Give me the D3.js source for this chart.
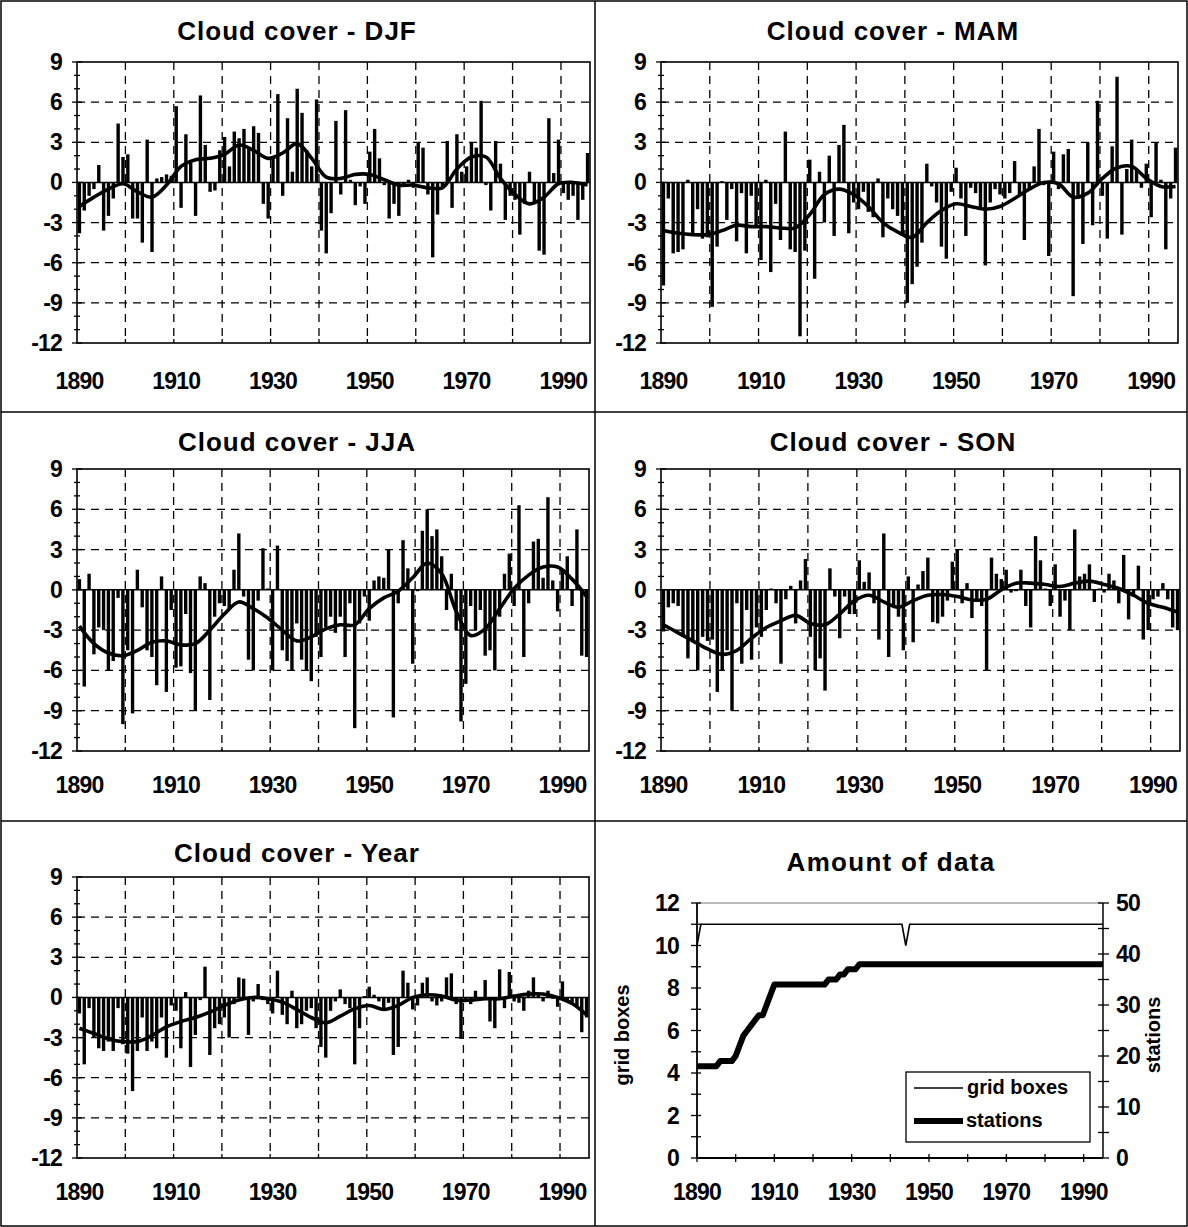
<!DOCTYPE html>
<html><head><meta charset="utf-8">
<script src="https://cdn.jsdelivr.net/npm/d3@7"></script>
<style>
body{margin:0;background:#fff}
svg{display:block}
text{font-family:"Liberation Sans",Arial,sans-serif;font-weight:bold;fill:#000}
</style>
</head><body>
<svg id="c" width="1188" height="1227"></svg>
<script>
// ---------------- DATA ----------------
const years = d3.range(1890, 1996);             // categories 1890..1995
const xTickLabels = [1890, 1910, 1930, 1950, 1970, 1990];
const yTickLabels = [9, 6, 3, 0, -3, -6, -9, -12];
const smoothYears = d3.range(1890, 1996, 3);     // points read for smoothed curves

const djf = [
 -3.8,-2.1,-1.0,-0.5, 1.3,-3.6,-2.5,-1.2, 4.4, 1.9,
  2.1,-2.7,-2.7,-4.5, 3.2,-5.2, 0.3, 0.4, 0.6, 0.5,
  5.7,-1.9, 3.6, 1.5,-2.5, 6.5, 2.8,-0.7,-0.6, 2.4,
  3.4, 1.2, 3.8, 3.3, 4.0, 2.5, 4.2, 3.7,-1.6,-2.7,
  1.9, 6.6,-1.0, 4.8, 0.8, 7.0, 5.2, 2.4, 1.2, 6.2,
 -3.6,-5.3,-2.3, 4.6,-0.9, 5.4, 0.2,-1.7,-0.3,-1.6,
  2.3, 4.0, 1.8,-0.2,-2.7,-1.6,-2.5,-0.3, 0.2,-0.4,
  3.0, 2.6,-0.9,-5.6,-2.4,-0.3, 3.1,-1.9, 3.6, 0.8,
  1.2, 3.0, 2.6, 6.1,-0.2,-2.1, 3.1, 1.4,-2.8,-1.0,
 -1.3,-3.9,-1.6, 0.8,-1.5,-5.1,-5.4, 4.8, 0.7, 3.2,
 -0.8,-1.3,-1.0,-2.8,-1.3, 2.2];
const djfSmooth = [-1.8,-1.1,-0.5,-0.1,-0.7,-1.1,-0.2,1.2,1.7,1.8,2.1,2.8,2.4,1.8,2.2,2.9,1.8,0.4,
  0.3,0.6,0.6,0.2,-0.2,-0.2,-0.4,-0.4,1.0,1.9,1.9,0.3,-0.9,-1.6,-1.1,-0.1,0.0,-0.2];

const mam = [
 -7.7,-1.2,-5.3,-5.2,-5.0, 0.2,-4.0,-2.0,-4.2,-4.1,
 -9.3,-4.8, 0.1,-2.8,-0.5,-4.4,-0.8,-5.3,-1.0,-3.4,
 -5.8, 0.2,-6.7,-1.6,-4.3, 3.8,-5.0,-5.2,-11.5,-5.1,
  1.7,-7.2, 0.8,-3.0, 2.0,-4.0, 2.8, 4.3,-3.8,-1.5,
 -2.0,-0.7,-2.2,-2.6, 0.3,-4.1,-1.2,-2.0,-2.5,-4.0,
 -9.0,-7.6,-6.3,-4.5, 1.4,-0.3,-1.5,-4.8,-5.7,-0.7,
  1.1,-1.2,-4.0,-0.4,-0.8,-1.9,-6.2,-1.5,-0.5,-0.9,
 -1.2,-0.8, 1.6,-0.9,-4.3,-0.5, 1.2, 4.0,-0.2,-5.5,
  2.3,-0.5, 2.1, 2.5,-8.5,-1.0,-4.6, 3.0,-3.2, 6.1,
 -1.0,-4.2, 2.7, 7.9,-3.9, 1.0, 3.2, 1.0,-0.4, 1.4,
 -2.6, 3.0, 0.2,-5.0,-1.2, 2.6];
const mamSmooth = [-3.6,-3.8,-3.9,-3.9,-3.6,-3.2,-3.3,-3.3,-3.4,-3.4,-2.4,-0.9,-0.5,-0.9,-1.8,-3.0,-3.7,-4.1,
  -3.0,-2.1,-1.6,-1.8,-2.0,-1.8,-1.2,-0.5,0.0,-0.1,-1.1,-0.8,0.3,1.1,1.2,0.3,-0.3,-0.3];

const jja = [
  0.8,-7.2, 1.2,-4.8,-2.8,-3.0,-6.0,-5.3,-0.6,-10.0,
 -4.5,-9.2, 1.5,-1.3,-4.5,-5.0,-7.1, 1.0,-7.6,-1.5,
 -5.8,-5.7,-1.8,-6.2,-9.0, 1.0, 0.5,-8.2,-2.0,-1.0,
 -1.2,-1.5, 1.5, 4.2,-0.5,-5.2,-6.0,-0.8, 3.1, 0.1,
 -6.0, 3.3,-4.5,-5.3,-6.0,-2.5,-5.2,-6.0,-6.8,-3.5,
 -5.0,-2.8,-2.0,-3.2,-2.0,-5.0,-1.0,-10.3,-2.5,-0.5,
 -2.3, 0.7, 1.0, 0.9, 3.0,-9.5,-1.0, 3.7, 1.6,-5.5,
 -0.1, 4.4, 6.0, 4.0, 4.5, 2.5,-1.5, 1.2,-3.0,-9.8,
 -7.0,-1.2,-3.0,-1.5,-4.9,-4.5,-6.0,-2.0, 1.2, 2.7,
 -1.2, 6.3,-5.0,-1.0, 3.6, 3.8, 0.9, 6.9, 0.7,-1.6,
  1.5, 2.5,-1.2, 4.5,-4.9,-5.0];
const jjaSmooth = [-2.7,-4.0,-4.7,-4.9,-4.5,-3.9,-3.8,-4.1,-4.0,-3.0,-1.8,-0.9,-1.4,-2.1,-3.0,-3.8,-3.5,-2.9,
  -2.6,-2.6,-1.4,-0.6,-0.1,0.9,2.0,1.2,-1.6,-3.4,-2.9,-1.4,0.1,1.1,1.7,1.7,0.8,-0.5];

const son = [
 -3.1,-1.3,-1.0,-1.2,-3.5,-5.1,-3.9,-6.0,-3.5,-3.8,
 -3.7,-7.6,-6.0,-4.5,-9.0,-1.0,-5.5,-1.5,-5.2,-2.8,
 -3.5,-1.5, 0.1,-1.0,-5.5,-0.7, 0.3,-2.5, 0.7, 2.3,
 -3.5,-6.0,-5.1,-7.5, 1.6,-0.5,-3.6,-0.5,-1.8,-1.8,
  2.2, 0.6, 1.3,-1.0,-3.7, 4.2,-5.0,-1.2,-2.0,-4.5,
  1.0,-3.9, 0.4, 1.4, 2.4,-2.4,-2.5,-2.0,-0.8, 2.1,
  3.0,-1.0, 0.5,-2.1,-0.8,-1.2,-6.0, 2.4, 1.2, 0.8,
  1.5,-0.2,-0.1, 1.5,-1.2,-2.8, 4.0, 2.2, 0.1,-1.2,
  1.9,-2.0,-0.8,-3.0, 4.5, 1.0, 1.2, 1.9,-0.9, 0.1,
 -0.2, 1.2, 0.7,-1.0, 2.6,-2.2,-0.5, 1.8,-3.7,-3.0,
 -0.7,-0.5, 0.5,-0.7,-2.8,-3.0];
const sonSmooth = [-2.6,-3.2,-3.8,-4.4,-4.8,-4.5,-3.6,-2.8,-2.3,-1.9,-2.5,-2.6,-1.8,-0.8,-0.4,-0.9,-1.3,-0.8,
  -0.4,-0.35,-0.5,-0.75,-0.7,0.0,0.5,0.5,0.4,0.25,0.5,0.65,0.4,0.1,-0.4,-1.0,-1.3,-1.65];

const yr = [
 -1.2,-5.0,-0.8,-3.0,-3.8,-4.0,-3.3,-4.0,-0.8,-3.5,
 -4.2,-7.0,-4.0,-1.5,-4.0,-3.3,-3.8,-1.5,-4.5,-0.6,
 -1.0,-3.8, 0.4,-5.2,-2.8,-0.2, 2.3,-4.3,-2.3,-2.0,
 -1.5,-3.0,-0.5, 1.5, 1.4,-2.8,-0.3, 1.0,-0.2,-0.5,
 -1.2, 2.0,-1.3,-2.0, 0.5,-2.3,-2.0,-1.0,-0.8,-2.3,
 -3.7,-4.5,-1.0,-0.3, 0.6,-0.5,-0.8,-5.0,-2.3, 0.1,
  0.8, 0.2,-0.3,-0.8,-0.4,-4.3,-3.7, 2.0, 1.1,-0.9,
 -0.6, 1.1, 1.5,-0.3,-0.6,-0.3, 1.5, 1.8,-0.5,-3.1,
 -0.3,-0.5, 0.5,-0.2, 1.3,-1.8,-2.3, 2.1,-0.8, 1.9,
 -0.3,-0.4,-1.0, 0.5, 1.5, 0.2,-0.3, 0.5,-0.1,-0.7,
  1.2,-0.3,-0.4,-0.7,-2.6,-1.5];
const yrSmooth = [-2.3,-2.7,-3.1,-3.3,-3.3,-2.85,-2.2,-1.8,-1.5,-1.1,-0.6,-0.2,0.0,-0.1,-0.35,-0.9,-1.5,-1.9,
  -1.4,-0.85,-0.6,-0.9,-0.6,0.0,0.2,0.1,-0.2,-0.2,-0.1,-0.1,0.1,0.25,0.25,0.0,-0.45,-1.3];

// Amount of data
const gridBoxes = [
 10,11,11,11,11,11,11,11,11,11,
 11,11,11,11,11,11,11,11,11,11,
 11,11,11,11,11,11,11,11,11,11,
 11,11,11,11,11,11,11,11,11,11,
 11,11,11,11,11,11,11,11,11,11,
 11,11,11,11,10,11,11,11,11,11,
 11,11,11,11,11,11,11,11,11,11,
 11,11,11,11,11,11,11,11,11,11,
 11,11,11,11,11,11,11,11,11,11,
 11,11,11,11,11,11,11,11,11,11,
 11,11,11,11,11,11];
const stations = [
 18,18,18,18,18,18,19,19,19,19,
 20,22,24,25,26,27,28,28,30,32,
 34,34,34,34,34,34,34,34,34,34,
 34,34,34,34,35,35,35,36,36,37,
 37,37,38,38,38,38,38,38,38,38,
 38,38,38,38,38,38,38,38,38,38,
 38,38,38,38,38,38,38,38,38,38,
 38,38,38,38,38,38,38,38,38,38,
 38,38,38,38,38,38,38,38,38,38,
 38,38,38,38,38,38,38,38,38,38,
 38,38,38,38,38,38];
const leftTicksData = [0, 2, 4, 6, 8, 10, 12];
const rightTicksData = [0, 10, 20, 30, 40, 50];

// ---------------- DRAW ----------------
const svg = d3.select('#c');
const FS_TITLE = 26, FS_TICK = 23;

// outer frame and dividers
svg.append('rect').attr('x',1).attr('y',1).attr('width',1186).attr('height',1225)
  .attr('fill','none').attr('stroke','#000').attr('stroke-width',1.5);
[[595,1,595,1226],[1,412,1187,412],[1,821,1187,821]].forEach(l=>{
  svg.append('line').attr('x1',l[0]).attr('y1',l[1]).attr('x2',l[2]).attr('y2',l[3])
    .attr('stroke','#000').attr('stroke-width',1.5);
});

const panels = [
  {title:'Cloud cover - DJF',  data:djf, smooth:djfSmooth, cx:297, ty:40,  L:77,  R:590,  T:62,  B:343,  ly:389},
  {title:'Cloud cover - MAM',  data:mam, smooth:mamSmooth, cx:893, ty:40,  L:661, R:1178, T:62,  B:343,  ly:389},
  {title:'Cloud cover - JJA',  data:jja, smooth:jjaSmooth, cx:297, ty:451, L:77,  R:589,  T:469, B:751,  ly:793},
  {title:'Cloud cover - SON',  data:son, smooth:sonSmooth, cx:893, ty:451, L:661, R:1180, T:469, B:751,  ly:793},
  {title:'Cloud cover - Year', data:yr,  smooth:yrSmooth,  cx:297, ty:862, L:77,  R:589,  T:877, B:1158, ly:1200}
];

panels.forEach(p => {
  const g = svg.append('g');
  const x = d3.scaleBand().domain(years).range([p.L, p.R]).paddingInner(0.3).paddingOuter(0.15);
  const step = x.step(), bw = x.bandwidth();
  const y = d3.scaleLinear().domain([-12, 9]).range([p.B, p.T]);
  const edge = yv => x(yv) - step * 0.15;

  g.append('text').attr('x', p.cx).attr('y', p.ty).attr('text-anchor','middle')
    .attr('font-size', FS_TITLE).style('letter-spacing','1px').text(p.title);

  // dashed grid
  [6,3,-3,-6,-9].forEach(v => g.append('line').attr('x1',p.L).attr('x2',p.R)
    .attr('y1',y(v)).attr('y2',y(v)).attr('stroke','#000').attr('stroke-width',1.3).attr('stroke-dasharray','8,6'));
  d3.range(1900, 1991, 10).forEach(yy => g.append('line').attr('x1',edge(yy)).attr('x2',edge(yy))
    .attr('y1',p.T).attr('y2',p.B).attr('stroke','#000').attr('stroke-width',1.3).attr('stroke-dasharray','8,6'));

  // bars
  g.selectAll('rect.bar').data(p.data).join('rect').attr('class','bar')
    .attr('x', (d,i) => x(years[i])).attr('width', bw)
    .attr('y', d => y(Math.max(0,d))).attr('height', d => Math.abs(y(d) - y(0)))
    .attr('fill','#000');

  // zero line
  g.append('line').attr('x1',p.L).attr('x2',p.R).attr('y1',y(0)).attr('y2',y(0))
    .attr('stroke','#000').attr('stroke-width',1.5);

  // smooth curve
  const line = d3.line().x((d,i) => x(smoothYears[i]) + bw/2).y(d => y(d)).curve(d3.curveCatmullRom.alpha(0.5));
  g.append('path').attr('d', line(p.smooth)).attr('fill','none').attr('stroke','#000')
    .attr('stroke-width',3.6).attr('stroke-linejoin','round');

  // frame
  g.append('rect').attr('x',p.L).attr('y',p.T).attr('width',p.R-p.L).attr('height',p.B-p.T)
    .attr('fill','none').attr('stroke','#000').attr('stroke-width',1.6);

  // left ticks
  d3.range(-12, 10).forEach(v => {
    const major = v % 3 === 0;
    g.append('line').attr('x1', p.L - (major?5:3)).attr('x2', p.L + (major?5:3))
      .attr('y1', y(v)).attr('y2', y(v)).attr('stroke','#000').attr('stroke-width',1.3);
  });
  yTickLabels.forEach(v => g.append('text').attr('x', p.L - 15).attr('y', y(v) + 8)
    .attr('text-anchor','end').attr('font-size',FS_TICK).style('letter-spacing','-0.8px').text(v));

  // bottom ticks
  d3.range(1900, 1991, 10).forEach(yy => g.append('line').attr('x1',edge(yy)).attr('x2',edge(yy))
    .attr('y1',p.B).attr('y2',p.B-4).attr('stroke','#000').attr('stroke-width',1.3));
  xTickLabels.forEach(yy => g.append('text').attr('x', x(yy) + bw/2).attr('y', p.ly)
    .attr('text-anchor','middle').attr('font-size',FS_TICK).style('letter-spacing','-0.8px').text(yy));
});

// ---------- Amount of data ----------
(function(){
  const L = 697, R = 1103, T = 903, B = 1158;
  const g = svg.append('g');
  const x = d3.scaleLinear().domain([1890, 1995]).range([L, R]);
  const yl = d3.scaleLinear().domain([0, 12]).range([B, T]);
  const yr2 = d3.scaleLinear().domain([0, 50]).range([B, T]);

  g.append('text').attr('x', 891).attr('y', 871).attr('text-anchor','middle')
    .attr('font-size', FS_TITLE).style('letter-spacing','1.3px').text('Amount of data');

  g.append('line').attr('x1',L).attr('x2',R).attr('y1',T).attr('y2',T).attr('stroke','#777').attr('stroke-width',1);
  g.append('line').attr('x1',L).attr('x2',L).attr('y1',T).attr('y2',B).attr('stroke','#000').attr('stroke-width',1.8);
  g.append('line').attr('x1',R).attr('x2',R).attr('y1',T).attr('y2',B).attr('stroke','#000').attr('stroke-width',1.5);
  g.append('line').attr('x1',L).attr('x2',R).attr('y1',B).attr('y2',B).attr('stroke','#000').attr('stroke-width',2);

  d3.range(0, 13).forEach(v => g.append('line').attr('x1',L-6).attr('x2',L+4)
    .attr('y1',yl(v)).attr('y2',yl(v)).attr('stroke','#000').attr('stroke-width',1.3));
  leftTicksData.forEach(v => g.append('text').attr('x', L-18).attr('y', yl(v)+8)
    .attr('text-anchor','end').attr('font-size',FS_TICK).style('letter-spacing','-0.8px').text(v));
  d3.range(0, 51, 5).forEach(v => g.append('line').attr('x1',R-5).attr('x2',R+6)
    .attr('y1',yr2(v)).attr('y2',yr2(v)).attr('stroke','#000').attr('stroke-width',1.3));
  rightTicksData.forEach(v => g.append('text').attr('x', R+13).attr('y', yr2(v)+8)
    .attr('text-anchor','start').attr('font-size',FS_TICK).style('letter-spacing','-0.8px').text(v));
  d3.range(1890, 1991, 10).forEach(yy => g.append('line').attr('x1',x(yy)).attr('x2',x(yy))
    .attr('y1',B-4).attr('y2',B+4).attr('stroke','#000').attr('stroke-width',1.3));
  xTickLabels.forEach(yy => g.append('text').attr('x', x(yy)).attr('y', 1200)
    .attr('text-anchor','middle').attr('font-size',FS_TICK).style('letter-spacing','-0.8px').text(yy));

  g.append('text').attr('transform','translate(629,1035) rotate(-90)').attr('text-anchor','middle')
    .attr('font-size',20).text('grid boxes');
  g.append('text').attr('transform','translate(1160,1035) rotate(-90)').attr('text-anchor','middle')
    .attr('font-size',20).text('stations');

  const lg = d3.line().x((d,i) => x(years[i])).y(d => yl(d));
  g.append('path').attr('d', lg(gridBoxes)).attr('fill','none').attr('stroke','#000').attr('stroke-width',1.6);
  const ls = d3.line().x((d,i) => x(years[i])).y(d => yr2(d));
  g.append('path').attr('d', ls(stations)).attr('fill','none').attr('stroke','#000').attr('stroke-width',6)
    .attr('stroke-linejoin','round');

  // legend
  g.append('rect').attr('x',906).attr('y',1072).attr('width',184).attr('height',70)
    .attr('fill','#fff').attr('stroke','#000').attr('stroke-width',1.3);
  g.append('line').attr('x1',914).attr('x2',963).attr('y1',1088).attr('y2',1088).attr('stroke','#000').attr('stroke-width',1.6);
  g.append('text').attr('x',967).attr('y',1094).attr('font-size',20).text('grid boxes');
  g.append('line').attr('x1',914).attr('x2',963).attr('y1',1121).attr('y2',1121).attr('stroke','#000').attr('stroke-width',6);
  g.append('text').attr('x',966).attr('y',1127).attr('font-size',20).text('stations');
})();
</script>
</body></html>
